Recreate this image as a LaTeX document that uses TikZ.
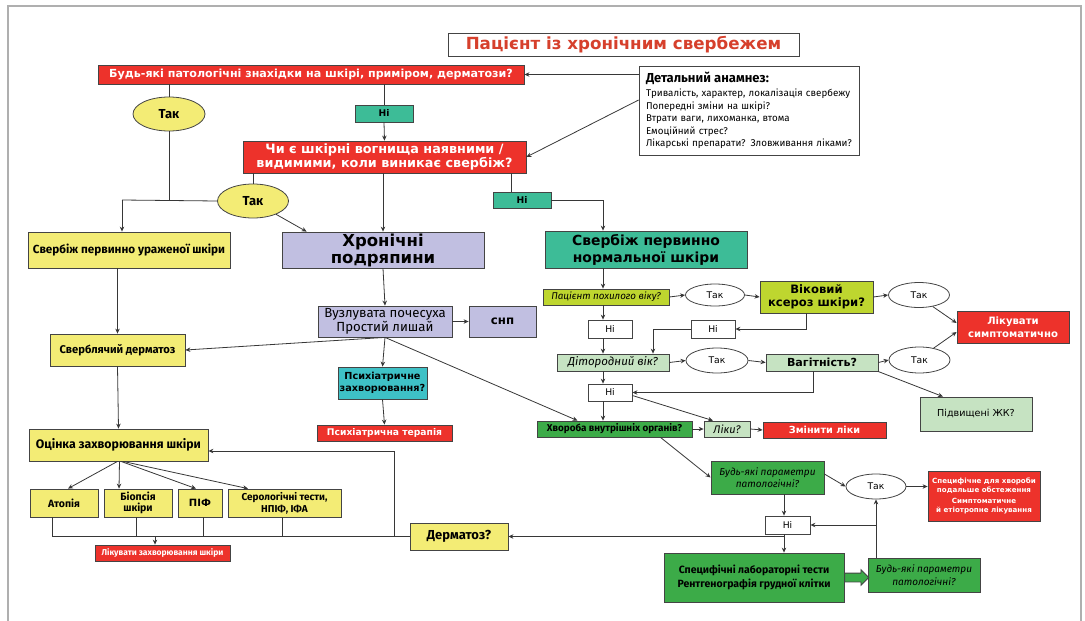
\documentclass[tikz,border=0pt]{standalone}
\usepackage{fontspec}
\setmainfont{Fira Sans}
\newfontfamily\wide{DejaVu Sans}
\usetikzlibrary{arrows.meta,shapes.geometric,shapes.arrows,calc}

\definecolor{edge}{RGB}{68,68,68}
\definecolor{wire}{RGB}{55,55,55}
\definecolor{frame}{RGB}{175,175,175}
\definecolor{titlered}{RGB}{214,64,44}
\definecolor{boxred}{RGB}{237,50,43}
\definecolor{boxyel}{RGB}{243,236,117}
\definecolor{boxteal}{RGB}{61,188,151}
\definecolor{boxlav}{RGB}{193,191,225}
\definecolor{boxcyan}{RGB}{62,193,198}
\definecolor{boxlime}{RGB}{190,214,47}
\definecolor{boxpale}{RGB}{198,227,194}
\definecolor{boxgrn}{RGB}{60,171,72}

\newcommand{\fsz}[2]{\fontsize{#1}{#2}\selectfont}

\begin{document}
\begin{tikzpicture}[
    x=1pt, y=-1pt,
    box/.style={draw=edge, line width=0.8pt, align=center, inner sep=1pt},
    redbox/.style={box, fill=boxred, text=white},
    yelbox/.style={box, fill=boxyel},
    lavbox/.style={box, fill=boxlav},
    tealbox/.style={box, fill=boxteal},
    cyanbox/.style={box, fill=boxcyan},
    limebox/.style={box, fill=boxlime},
    palebox/.style={box, fill=boxpale},
    grnbox/.style={box, fill=boxgrn},
    whitebox/.style={box, fill=white},
    yesyel/.style={ellipse, draw=edge, line width=0.8pt, fill=boxyel, inner sep=0pt, font=\bfseries\fsz{13}{15}},
    yeswhite/.style={ellipse, draw=edge, line width=0.8pt, fill=white, inner sep=0pt, font=\wide\fsz{9.2}{11}},
    link/.style={draw=wire, line width=0.8pt},
    arrow/.style={link, -{Stealth[length=5pt,width=4.5pt]}}
]
\useasboundingbox (0,0) rectangle (1085,621);
\draw[frame, line width=1.2pt] (8,621) -- (8,6) -- (1081,6) -- (1081,621);

% top of the chart
\node[whitebox, minimum width=351, minimum height=23, text=titlered, font=\wide\bfseries\fsz{16.7}{19}] (title) at (623.5,44.5) {Пацієнт із хронічним свербежем};
\node[redbox, minimum width=426, minimum height=19, font=\wide\bfseries\fsz{11.1}{13}] (q1) at (311,74.5) {Будь-які патологічні знахідки на шкірі, приміром, дерматози?};
\node[whitebox, minimum width=220, minimum height=89, text width=206, align=left, inner xsep=7pt, font=\fsz{9.8}{12.5}] (hist) at (749,110.5)
  {{\bfseries\fsz{13}{14}Детальний анамнез:}\\[2pt]
   Тривалість, характер, локалізація свербежу\\
   Попередні зміни на шкірі?\\
   Втрати ваги, лихоманка, втома\\
   Емоційний стрес?\\
   Лікарські препарати? Зловживання ліками?};
\node[yesyel, minimum width=72, minimum height=34] (yes1) at (169,114) {Так};
\node[tealbox, minimum width=58, minimum height=17, font=\wide\bfseries\fsz{9.2}{11}] (no1) at (384,113.5) {Ні};
\node[redbox, minimum width=283, minimum height=32, font=\wide\bfseries\fsz{12.8}{14}] (q2) at (384.5,157) {Чи є шкірні вогнища наявними /\\видимими, коли виникає свербіж?};
\node[yesyel, minimum width=71, minimum height=34] (yes2) at (253,201) {Так};
\node[tealbox, minimum width=58, minimum height=16, font=\wide\bfseries\fsz{9.2}{11}] (no2) at (522,200) {Ні};

% three main branches
\node[yelbox, minimum width=202, minimum height=36, font=\bfseries\fsz{11.7}{13}] (prim) at (129,250) {Свербіж первинно ураженої шкіри};
\node[lavbox, minimum width=202, minimum height=36, font=\wide\bfseries\fsz{16.5}{17}] (chron) at (383,250) {Хронічні\\подряпини};
\node[tealbox, minimum width=202, minimum height=37, font=\wide\bfseries\fsz{13.9}{17}] (norm) at (646,249.5) {Свербіж первинно\\нормальної шкіри};

% left part
\node[yelbox, minimum width=135, minimum height=32, font=\bfseries\fsz{11.2}{12}] (derm) at (117.5,350) {Сверблячий дерматоз};
\node[lavbox, minimum width=134, minimum height=31, font=\fsz{13.2}{14}] (nod) at (385,321.5) {Вузлувата почесуха\\Простий лишай};
\node[lavbox, minimum width=67, minimum height=31, font=\wide\bfseries\fsz{11.8}{14}] (snp) at (502.5,321.5) {снп};
\node[cyanbox, minimum width=89, minimum height=32, font=\wide\bfseries\fsz{9.7}{12}] (psy) at (382.5,383) {Психіатричне\\захворювання?};
\node[redbox, minimum width=135, minimum height=16, font=\wide\bfseries\fsz{9.2}{11}] (psyth) at (384.5,433) {Психіатрична терапія};
\node[yelbox, minimum width=179, minimum height=32, font=\bfseries\fsz{12.3}{13}] (eval) at (118.5,445) {Оцінка захворювання шкіри};
\node[yelbox, minimum width=68, minimum height=28, font=\bfseries\fsz{10.5}{11}] (atop) at (64,503) {Атопія};
\node[yelbox, minimum width=68, minimum height=28, font=\bfseries\fsz{10.5}{11}] (biop) at (138,503) {Біопсія\\шкіри};
\node[yelbox, minimum width=44, minimum height=28, font=\wide\bfseries\fsz{10}{12}] (pif) at (200,503) {ПІФ};
\node[yelbox, minimum width=113, minimum height=28, font=\bfseries\fsz{10}{12}] (sero) at (284.5,503) {Серологічні тести,\\НПІФ, ІФА};
\node[redbox, minimum width=135, minimum height=16, font=\bfseries\fsz{8.5}{10}] (treat) at (162.5,553) {Лікувати захворювання шкіри};
\node[yelbox, minimum width=98, minimum height=27, font=\bfseries\fsz{13}{14}] (derq) at (459,536.5) {Дерматоз?};

% right part
\node[limebox, minimum width=126, minimum height=16, font=\itshape\fsz{9.8}{11}] (old) at (606,297) {Пацієнт похилого віку?};
\node[yeswhite, minimum width=59, minimum height=22] (yes3) at (715,295) {Так};
\node[limebox, minimum width=113, minimum height=32, font=\wide\bfseries\fsz{11.6}{13}] (xer) at (816.5,297) {Віковий\\ксероз шкіри?};
\node[yeswhite, minimum width=61, minimum height=25] (yes4) at (919,295) {Так};
\node[redbox, minimum width=112, minimum height=32, font=\wide\bfseries\fsz{10.1}{13}] (symp) at (1013,327) {Лікувати\\симптоматично};
\node[whitebox, minimum width=44, minimum height=18, font=\wide\fsz{9.2}{11}] (no3) at (610,329) {Ні};
\node[whitebox, minimum width=44, minimum height=18, font=\wide\fsz{9.2}{11}] (no4) at (713,329) {Ні};
\node[palebox, minimum width=112, minimum height=17, font=\itshape\fsz{11.5}{13}] (fert) at (613,362.5) {Дітородний вік?};
\node[yeswhite, minimum width=62, minimum height=25] (yes5) at (717,360.5) {Так};
\node[palebox, minimum width=112, minimum height=17, font=\wide\bfseries\fsz{11.1}{13}] (preg) at (822,362.5) {Вагітність?};
\node[yeswhite, minimum width=61, minimum height=26] (yes6) at (919.5,360) {Так};
\node[palebox, minimum width=112, minimum height=34, font=\wide\fsz{9.6}{12}] (bile) at (976,414) {Підвищені ЖК?};
\node[whitebox, minimum width=44, minimum height=17, font=\wide\fsz{9.2}{11}] (no5) at (610,392.5) {Ні};
\node[grnbox, minimum width=155, minimum height=16, font=\bfseries\fsz{9.9}{11}] (inner) at (614.5,429) {Хвороба внутрішніх органів?};
\node[palebox, minimum width=46, minimum height=16, font=\itshape\fsz{11}{12}] (drug) at (727,429) {Ліки?};
\node[redbox, minimum width=123, minimum height=16, font=\wide\bfseries\fsz{9.7}{12}] (chg) at (824.5,430) {Змінити ліки};
\node[grnbox, minimum width=113, minimum height=33, font=\itshape\fsz{10}{12.5}] (par1) at (767.5,477.5) {Будь-які параметри\\патологічні?};
\node[yeswhite, minimum width=60, minimum height=25] (yes7) at (876,486.5) {Так};
\node[redbox, minimum width=112, minimum height=50, font=\wide\bfseries\fsz{7.1}{9}] (spec) at (984,496) {Специфічне для хвороби\\подальше обстеження\\[2.5pt]Симптоматичне\\й етіотропне лікування};
\node[whitebox, minimum width=45, minimum height=18, font=\wide\fsz{9.2}{11}] (no6) at (787.5,525) {Ні};
\node[grnbox, minimum width=180, minimum height=49, font=\bfseries\fsz{10.5}{14}] (lab) at (754,577.5) {Специфічні лабораторні тести\\Рентгенографія грудної клітки};
\node[grnbox, minimum width=112, minimum height=34, font=\itshape\fsz{10}{12.5}] (par2) at (924,575) {Будь-які параметри\\патологічні?};
\node[single arrow, draw=edge, fill=boxgrn, line width=0.8pt, minimum height=24pt, single arrow head extend=3.5pt, inner sep=4pt, anchor=tail] (fat) at (lab.east) {};

\coordinate (sp) at (603,0);

% connectors, top
\draw[arrow] (hist.west |- q1.east) -- (q1.east);
\draw[arrow] ([yshift=10.5pt]hist.west) -- (q2.east);
\draw[link] (q1.south -| yes1.north) -- (yes1.north);
\draw[link] (q1.south -| no1.north) -- (no1.north);
\draw[arrow] (no1.south) -- (q2.north);
\coordinate (j1) at (122,200);
\draw[link] (yes1.south) -- (yes1.south |- j1);
\draw[link] (yes2.west) -- (j1);
\draw[arrow] (j1) -- (j1 |- prim.north);
\draw[link] (q2.south -| yes2.north) -- (yes2.north);
\draw[arrow] (q2.south -| chron.north) -- (chron.north);
\draw[arrow] (yes2.-30) -- ([xshift=25pt]chron.north west);
\draw[link] ([xshift=-11pt]no2.north) -- ([xshift=-11pt]no2.north |- q2.south);
\draw[arrow] (no2.east) -| (norm.north -| sp);

% left branch
\draw[arrow] (prim.south -| derm.north) -- (derm.north);
\draw[arrow] (derm.south) -- (eval.north);
\draw[arrow] (chron.south) -- (nod.north);
\draw[arrow] (nod.east) -- (snp.west);
\draw[arrow] (nod.south) -- (psy.north);
\draw[arrow] (psy.south) -- (psyth.north);
\draw[arrow] (nod.south) -- (derm.east);
\draw[arrow] (nod.south) -- ([xshift=-37pt]inner.north);
\foreach \s/\e/\d in {-1/4/atop, 1/-19/biop, 2.5/-4/pif, 4.5/-36.5/sero}
  \draw[arrow] ([xshift=\s pt]eval.south) -- ([xshift=\e pt]\d.north);
\foreach \s/\d in {-12/atop, -2/biop, 3/pif, -2.5/sero}
  \draw[link] ([xshift=\s pt]\d.south) -- ([xshift=\s pt]\d.south |- derq.west);
\draw[link] ([xshift=-12pt]atop.south |- derq.west) -- (derq.west);
\draw[arrow] ([xshift=-7.5pt]treat.north |- derq.west) -- ([xshift=-7.5pt]treat.north);
\draw[arrow] ([xshift=-15pt]derq.west) |- ([yshift=-6pt]eval.east);

% right branch
\draw[arrow] (norm.south -| sp) -- (old.north -| sp);
\draw[arrow] (old.east) -- (yes3.west);
\draw[arrow] (yes3.east) -- (xer.west);
\draw[arrow] (xer.east) -- (yes4.west);
\draw[arrow] (yes4.-40) -- ([yshift=4pt]symp.west);
\draw[arrow] (yes6.40) -- ([yshift=-5pt]symp.west);
\draw[arrow] ([xshift=-10pt]xer.south) |- (no4.east);
\draw[arrow] (no4.west) -| ([xshift=40pt]fert.north);
\draw[arrow] (old.south -| sp) -- (no3.north -| sp);
\draw[arrow] (no3.south -| sp) -- (fert.north -| sp);
\draw[arrow] (fert.east) -- (yes5.west);
\draw[arrow] (yes5.east) -- (preg.west);
\draw[arrow] (preg.east) -- (yes6.west);
\draw[arrow] ([xshift=56pt]preg.south) -- ([xshift=-33pt]bile.north);
\draw[arrow] ([xshift=-9pt]preg.south) |- (no5.east);
\draw[arrow] (fert.south -| sp) -- (no5.north -| sp);
\draw[arrow] (no5.south -| sp) -- (inner.north -| sp);
\draw[arrow] ([yshift=-3pt]no5.east) -- ([xshift=-14pt]drug.north);
\draw[arrow] (inner.east) -- (drug.west);
\draw[arrow] (drug.east) -- (chg.west);
\draw[arrow] ([xshift=46pt]inner.south) -- (par1.west);
\draw[arrow] ([yshift=3.5pt]par1.east) -- (yes7.west);
\draw[arrow] (yes7.east) -- (yes7.east -| spec.west);
\draw[arrow] ([xshift=-3.5pt]no6.north |- par1.south) -- ([xshift=-3.5pt]no6.north);
\draw[arrow] (yes7.south |- par2.north) -- (yes7.south);
\draw[arrow] (yes7.south |- no6.east) -- (no6.east);
\draw[arrow] ([xshift=-3.5pt]no6.south) -- ([xshift=-3.5pt]no6.south |- lab.north);
\draw[arrow] ([xshift=-3.5pt]no6.south |- derq.east) -- (derq.east);
\end{tikzpicture}
\end{document}
